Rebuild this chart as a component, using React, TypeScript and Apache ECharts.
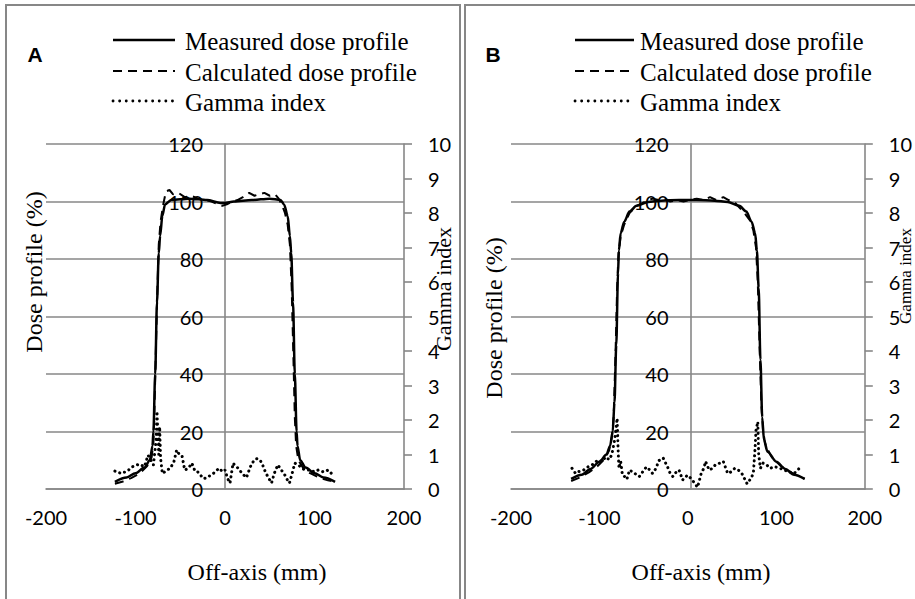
import React, { useEffect, useRef } from "react";
import * as echarts from "echarts";

// ---------- data ----------
const xTickValues = [-200, -100, 0, 100, 200];
const doseTicks = [0, 20, 40, 60, 80, 100, 120];
const gammaTicks = [0, 1, 2, 3, 4, 5, 6, 7, 8, 9, 10];

// Panel A
const measuredA_x = [-123, -110, -100, -90, -84, -81, -80, -78, -76, -74, -72.5, -70, -67, -60, -40, -20, -5, 0, 10, 30, 50, 62, 66, 70, 72.5, 74, 76, 78, 80, 81, 84, 90, 100, 110, 123];
const measuredA_y = [2.5, 4, 5.5, 7.5, 10, 15, 20, 40, 65, 82, 88, 95, 99, 100.5, 101, 100.5, 99.5, 99.5, 100, 100.5, 101, 100.5, 99, 95, 88, 82, 65, 40, 20, 15, 10, 7.5, 5.5, 4, 2.5];

const calculatedA_x = [-123, -115, -105, -95, -87, -82, -80, -79, -77.5, -75.5, -74, -72, -69, -66, -62, -58, -52, -45, -38, -30, -22, -15, -8, -3, 2, 8, 14, 20, 27, 33, 38, 44, 50, 56, 60, 64, 67, 70, 72.5, 74.5, 76.5, 78, 79.5, 82, 88, 95, 105, 115, 123];
const calculatedA_y = [1.8, 2.5, 3.8, 5.5, 8, 11, 16, 25, 45, 70, 85, 93, 99, 103.5, 104, 102.5, 103, 101.5, 102, 101, 100.5, 100, 99, 98.5, 99, 100, 100.5, 101.5, 103, 102, 102.5, 103, 102, 102.5, 101, 98.5, 96, 92, 85, 70, 45, 25, 15, 10, 7, 5.5, 4, 3, 2.5];

const gammaA_x = [-123, -116, -109, -104, -96, -90, -86, -80, -77, -76, -75, -74, -73, -72, -70, -69, -65, -61, -57, -54, -51, -48, -45, -41, -37, -34, -32, -29, -24, -20, -16, -13, -9, -6, -3, 0, 3, 5.6, 9, 12, 15, 19, 24, 27, 30, 35, 39, 42, 45, 48, 52, 55, 59, 63, 67, 70, 72, 75, 78, 82, 86, 90, 95, 100, 104, 109, 114, 118, 121];
const gammaA_y = [0.52, 0.45, 0.52, 0.64, 0.72, 0.65, 0.98, 0.7, 1.4, 2.25, 1.6, 1.0, 1.8, 0.9, 0.45, 0.46, 0.55, 0.6, 0.8, 1.13, 1.0, 0.96, 0.55, 0.6, 0.75, 0.55, 0.55, 0.45, 0.3, 0.33, 0.4, 0.45, 0.55, 0.6, 0.5, 0.55, 0.3, 0.17, 0.75, 0.65, 0.6, 0.45, 0.33, 0.55, 0.75, 0.88, 0.85, 0.7, 0.5, 0.35, 0.17, 0.45, 0.7, 0.55, 0.4, 0.25, 0.17, 0.45, 0.75, 0.7, 0.6, 0.55, 0.55, 0.5, 0.55, 0.5, 0.55, 0.45, 0.5];

// Panel B
const measuredB_x = [-132, -120, -110, -100, -92, -88, -85, -83, -81, -79, -78, -76, -72, -66, -58, -45, -30, -10, 10, 30, 45, 58, 66, 72, 76, 78, 80, 82, 84, 86, 90, 100, 110, 120, 132];
const measuredB_y = [3.5, 5, 7, 9.5, 12, 15, 20, 30, 50, 75, 83, 89, 93, 96.5, 98.5, 99.8, 100.3, 100.5, 100.5, 100.3, 99.8, 98.5, 96.5, 93, 89, 83, 70, 45, 25, 17, 13, 9.5, 7, 5, 3.5];

const calculatedB_x = [-132, -122, -112, -102, -94, -89, -86, -84, -82, -80, -78.5, -76, -72, -66, -58, -48, -40, -33, -26, -20, -12, -5, 2, 10, 18, 25, 32, 40, 46, 52, 58, 64, 70, 74, 77, 79, 81, 83, 85, 88, 95, 105, 115, 125, 132];
const calculatedB_y = [2.8, 4, 5.8, 8, 10.5, 13.5, 18, 25, 45, 70, 82, 88, 92, 96, 98.5, 100, 101, 100.5, 101, 100, 100.5, 100, 100.5, 101, 100.5, 101.5, 100.5, 101.5, 100.5, 100, 98, 96, 93.5, 90, 84, 72, 50, 30, 20, 15, 11, 8, 6, 4.5, 3.5];

const gammaB_x = [-131, -127, -124, -118, -113, -107, -102, -97, -93, -89, -86, -83, -81, -80, -79, -78, -76, -74, -71, -69, -66, -63, -60, -55, -51, -47, -43, -40, -36, -33, -28, -23, -20, -17, -13, -10, -6, -3, 0, 5, 8, 11, 15, 18, 20, 24, 28, 31, 36, 40, 45, 49, 53, 57, 61, 64, 67, 71, 74, 76, 77, 79, 80, 82, 85, 89, 93, 98, 104, 109, 114, 120, 124, 128];
const gammaB_y = [0.6, 0.45, 0.5, 0.55, 0.64, 0.72, 0.84, 0.8, 0.93, 0.85, 1.0, 1.4, 1.8, 2.05, 1.2, 0.6, 0.8, 0.4, 0.35, 0.28, 0.55, 0.5, 0.45, 0.36, 0.5, 0.64, 0.55, 0.45, 0.6, 0.82, 0.9, 0.64, 0.45, 0.36, 0.5, 0.55, 0.26, 0.35, 0.4, 0.26, 0.15, 0.05, 0.45, 0.6, 0.8, 0.55, 0.6, 0.7, 0.75, 0.8, 0.45, 0.5, 0.6, 0.55, 0.45, 0.3, 0.15, 0.3, 0.45, 1.2, 1.7, 1.95, 1.0, 0.6, 0.75, 0.7, 0.6, 0.65, 0.6, 0.55, 0.5, 0.45, 0.55, 0.65];

const seriesNames = ["Measured dose profile", "Calculated dose profile", "Gamma index"];
const panelLabels = ["A", "B"];
const xTitle = "Off-axis (mm)";
const doseTitle = "Dose profile (%)";
const gammaTitle = "Gamma index";

// ---------- helpers ----------
const zip = (xs: number[], ys: number[]) => xs.map((x, i) => [x, ys[i]]);

const GRAY = "#878787";
const SERIF = "'Liberation Serif', 'Times New Roman', serif";
const SANS = "Lato, 'Open Sans', sans-serif";
const DASH = [9, 6];
const DOT = [0.1, 5];

export default function App() {
  const ref = useRef<HTMLDivElement>(null);

  useEffect(() => {
    if (!ref.current) return;
    const chart = echarts.init(ref.current, null, { renderer: "svg" });

    const grids = [
      { left: 46, top: 144, width: 358, height: 345 },
      { left: 511, top: 144, width: 359, height: 345 },
    ];
    // left axis sits at x = 0 of the off-axis scale (middle of each grid)
    const doseAxisOffset = grids.map((g) => -(g.width / 2));

    const xAxes = grids.map((_, gi) => ({
      type: "value",
      gridIndex: gi,
      min: xTickValues[0],
      max: xTickValues[xTickValues.length - 1],
      interval: 100,
      axisLine: { show: true, onZero: false, lineStyle: { color: GRAY, width: 1.6 } },
      axisTick: { show: false },
      splitLine: { show: false },
      axisLabel: { margin: 18, fontSize: 20, fontFamily: SANS, color: "#000" },
    }));

    const yAxes: any[] = [];
    grids.forEach((_, gi) => {
      yAxes.push({
        type: "value",
        gridIndex: gi,
        position: "left",
        offset: doseAxisOffset[gi],
        min: doseTicks[0],
        max: doseTicks[doseTicks.length - 1],
        interval: 20,
        axisLine: { show: true, onZero: false, lineStyle: { color: GRAY, width: 1.6 } },
        axisTick: { show: false },
        splitLine: { show: true, lineStyle: { color: GRAY, width: 1.6 } },
        axisLabel: { margin: 22, fontSize: 20, fontFamily: SANS, color: "#000" },
      });
      yAxes.push({
        type: "value",
        gridIndex: gi,
        position: "right",
        min: gammaTicks[0],
        max: gammaTicks[gammaTicks.length - 1],
        interval: 1,
        axisLine: { show: true, onZero: false, lineStyle: { color: GRAY, width: 1.6 } },
        axisTick: { show: true, inside: false, length: 8, lineStyle: { color: GRAY, width: 1.6 } },
        splitLine: { show: false },
        axisLabel: { margin: 24, fontSize: 20, fontFamily: SANS, color: "#000" },
      });
    });

    const panels = [
      { m: zip(measuredA_x, measuredA_y), c: zip(calculatedA_x, calculatedA_y), g: zip(gammaA_x, gammaA_y) },
      { m: zip(measuredB_x, measuredB_y), c: zip(calculatedB_x, calculatedB_y), g: zip(gammaB_x, gammaB_y) },
    ];

    const series: any[] = [];
    panels.forEach((p, gi) => {
      series.push({
        name: seriesNames[0], type: "line", xAxisIndex: gi, yAxisIndex: gi * 2,
        data: p.m, showSymbol: false, symbol: "none", smooth: 0.3, smoothMonotone: "x",
        lineStyle: { color: "#000", width: 2.5 }, z: 3,
      });
      series.push({
        name: seriesNames[1], type: "line", xAxisIndex: gi, yAxisIndex: gi * 2,
        data: p.c, showSymbol: false, symbol: "none", smooth: false,
        lineStyle: { color: "#000", width: 2, type: DASH }, z: 4,
      });
      series.push({
        name: seriesNames[2], type: "line", xAxisIndex: gi, yAxisIndex: gi * 2 + 1,
        data: p.g, showSymbol: false, symbol: "none", smooth: false,
        lineStyle: { color: "#000", width: 3, type: DOT, cap: "round" }, z: 5,
      });
    });

    // Decorations: borders, panel letters, legends, titles
    const graphic: any[] = [];
    const borders = [
      { x: 6, y: 5, w: 454, h: 620 },
      { x: 465, y: 5, w: 480, h: 620 },
    ];
    borders.forEach((b) =>
      graphic.push({ type: "rect", shape: { x: b.x, y: b.y, width: b.w, height: b.h }, style: { fill: "none", stroke: GRAY, lineWidth: 2 }, z: 1 })
    );

    const letterPos = [{ x: 35, y: 54 }, { x: 493, y: 54 }];
    const legendLine = [{ x1: 113, x2: 175, tx: 185 }, { x1: 575, x2: 634, tx: 640 }];
    const rows = [40, 71, 101];
    const xTitlePos = [{ x: 257, y: 572 }, { x: 701, y: 572 }];
    const doseTitlePos = [{ x: 34, y: 272, size: 24 }, { x: 494, y: 318, size: 24 }];
    const gammaTitlePos = [{ x: 443, y: 289, size: 22 }, { x: 905, y: 276, size: 17 }];

    panelLabels.forEach((lab, i) => {
      graphic.push({
        type: "text", x: letterPos[i].x, y: letterPos[i].y, z: 10,
        style: { text: lab, font: `bold 21px 'Liberation Sans', Arial, sans-serif`, fill: "#000", align: "center", verticalAlign: "middle" },
      });
      const L = legendLine[i];
      const dashes = [null, DASH, [0.1, 6.5]];
      seriesNames.forEach((nm, k) => {
        graphic.push({
          type: "line", z: 10,
          shape: { x1: L.x1, y1: rows[k], x2: L.x2, y2: rows[k] },
          style: { stroke: "#000", lineWidth: k === 0 ? 2.4 : k === 1 ? 2 : 2.8, lineDash: dashes[k] || undefined, lineCap: k === 2 ? "round" : "butt" },
        });
        graphic.push({
          type: "text", x: L.tx, y: rows[k] + 1, z: 10,
          style: { text: nm, font: `25px ${SERIF}`, fill: "#000", align: "left", verticalAlign: "middle" },
        });
      });
      graphic.push({
        type: "text", x: xTitlePos[i].x, y: xTitlePos[i].y, z: 10,
        style: { text: xTitle, font: `24px ${SERIF}`, fill: "#000", align: "center", verticalAlign: "middle" },
      });
      graphic.push({
        type: "text", x: doseTitlePos[i].x, y: doseTitlePos[i].y, rotation: Math.PI / 2, z: 10,
        style: { text: doseTitle, font: `${doseTitlePos[i].size}px ${SERIF}`, fill: "#000", align: "center", verticalAlign: "middle" },
      });
      graphic.push({
        type: "text", x: gammaTitlePos[i].x, y: gammaTitlePos[i].y, rotation: Math.PI / 2, z: 10,
        style: { text: gammaTitle, font: `${gammaTitlePos[i].size}px ${SERIF}`, fill: "#000", align: "center", verticalAlign: "middle" },
      });
    });

    chart.setOption({
      animation: false,
      backgroundColor: "#fff",
      grid: grids,
      xAxis: xAxes,
      yAxis: yAxes,
      series,
      graphic,
    });

    return () => chart.dispose();
  }, []);

  return (
    <div
      ref={ref}
      style={{ position: "fixed", left: 0, top: 0, width: 915, height: 599, background: "#fff" }}
    />
  );
}
